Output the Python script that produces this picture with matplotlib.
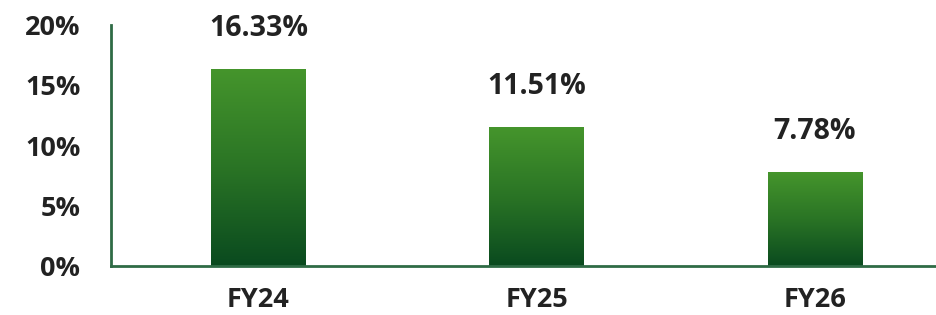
import numpy as np
import matplotlib.pyplot as plt
from matplotlib.colors import LinearSegmentedColormap

# data
years = ['FY24', 'FY25', 'FY26']
growth = [16.33, 11.51, 7.78]
yticks = [0, 5, 10, 15, 20]

plt.rcParams['font.family'] = ['Open Sans', 'DejaVu Sans']

fig = plt.figure(figsize=(9.36, 3.15), dpi=100)
ax = fig.add_axes([111 / 936, 49 / 315, 825 / 936, 241 / 315])

x = np.arange(len(years))
bars = ax.bar(x, growth, width=0.34, color='none', edgecolor='none', zorder=2)

# vertical gradient inside every bar (dark at the bottom, light at the top)
cmap = LinearSegmentedColormap.from_list('grn', ['#0a4a1f', '#2a7425', '#45952c'])
grad = np.linspace(0, 1, 256).reshape(-1, 1)
for b in bars:
    x0, y0 = b.get_x(), b.get_y()
    w, h = b.get_width(), b.get_height()
    im = ax.imshow(grad, cmap=cmap, origin='lower', aspect='auto',
                   extent=(x0, x0 + w, y0, y0 + h), zorder=2)
    im.set_clip_path(b)

for xi, v in zip(x, growth):
    ax.annotate('%.2f%%' % v, (xi, v), xytext=(0, 19), textcoords='offset points',
                ha='center', va='bottom', fontsize=20.5, fontweight='bold',
                color='#222222')

ax.set_xlim(-0.53, 2.435)
ax.set_ylim(0, 20)
ax.set_xticks(x)
ax.set_xticklabels(years)
ax.set_yticks(yticks)
ax.set_yticklabels(['%d%%' % t for t in yticks])
ax.tick_params(length=0, labelsize=19.5, colors='#222222')
ax.tick_params(axis='y', pad=22)
ax.tick_params(axis='x', pad=15)
for lab in ax.get_xticklabels() + ax.get_yticklabels():
    lab.set_fontweight('bold')

for s in ['top', 'right']:
    ax.spines[s].set_visible(False)
for s in ['left', 'bottom']:
    ax.spines[s].set_color('#2f6b45')
    ax.spines[s].set_linewidth(2)

fig.savefig('out.png', dpi=100)
